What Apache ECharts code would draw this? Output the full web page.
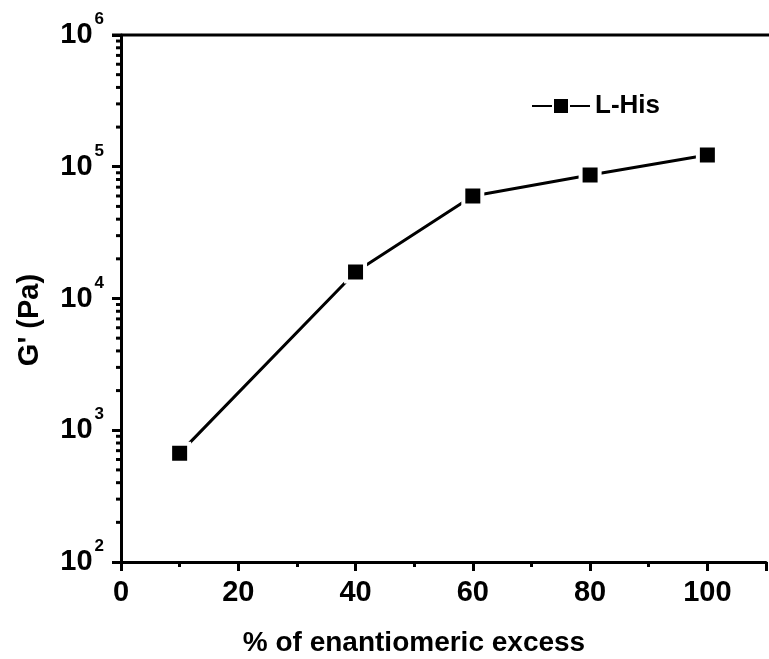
<!DOCTYPE html>
<html>
<head>
<meta charset="utf-8">
<script src="https://cdn.jsdelivr.net/npm/echarts@6/dist/echarts.min.js"></script>
<style>html,body{margin:0;padding:0;background:#fff}#c{width:769px;height:659px}</style>
</head>
<body>
<div id="c"></div>
<script>
const categories = [10, 40, 60, 80, 100];
const seriesName = 'L-His';
const gPrime = [670, 15900, 60000, 86500, 122700];
const xTicks = [0, 20, 40, 60, 80, 100];
const yTicks = [100, 1000, 10000, 100000, 1000000];
const yMinorTicks = [];
[100, 1000, 10000, 100000].forEach(function (d) { for (let k = 2; k <= 9; k++) yMinorTicks.push(k * d); });

const F = '"Liberation Sans", Arial, sans-serif';
const chart = echarts.init(document.getElementById('c'));
chart.setOption({
  animation: false,
  backgroundColor: '#fff',
  grid: { left: 121, top: 35, width: 650, height: 527, containLabel: false },
  legend: {
    left: 526, top: 88, itemWidth: 58, itemHeight: 20, itemGap: 4,
    textStyle: { fontFamily: F, fontWeight: 'bold', fontSize: 26, color: '#000' },
    data: [seriesName]
  },
  xAxis: {
    type: 'value', min: 0, max: 110, interval: 20,
    axisLine: { lineStyle: { color: '#000', width: 3 } },
    axisTick: { inside: false, length: 9, lineStyle: { width: 3, color: '#000' } },
    minorTick: { show: true, splitNumber: 2, length: 5, lineStyle: { width: 3, color: '#000' } },
    splitLine: { show: false },
    axisLabel: {
      margin: 16, color: '#000', fontFamily: F, fontWeight: 'bold', fontSize: 29,
      formatter: function (v) { return xTicks.indexOf(v) >= 0 ? String(v) : ''; }
    }
  },
  yAxis: {
    type: 'log', logBase: 10, min: yTicks[0], max: yTicks[yTicks.length - 1],
    axisLine: { lineStyle: { color: '#000', width: 3 } },
    axisTick: { inside: false, length: 9, lineStyle: { width: 3, color: '#000' } },
    splitLine: { show: false },
    axisLabel: {
      margin: 17, color: '#000',
      formatter: function (v) { return '{b|10}{s|' + Math.round(Math.log10(v)) + '}'; },
      rich: {
        b: { fontFamily: F, fontWeight: 'bold', fontSize: 29, lineHeight: 48, color: '#000' },
        s: { fontFamily: F, fontWeight: 'bold', fontSize: 17, lineHeight: 17, verticalAlign: 'top', padding: [0, 0, 0, 2], color: '#000' }
      }
    }
  },
  graphic: [
    { type: 'line', shape: { x1: 112, y1: 35, x2: 769, y2: 35 }, style: { stroke: '#000', lineWidth: 3 } },
    { type: 'text', x: 414, y: 643, style: { text: '% of enantiomeric excess', fontFamily: F, fontWeight: 'bold', fontSize: 28, fill: '#000', textAlign: 'center', textVerticalAlign: 'middle' } },
    { type: 'text', x: 30, y: 320, rotation: Math.PI / 2, style: { text: "G' (Pa)", fontFamily: F, fontWeight: 'bold', fontSize: 29, fill: '#000', textAlign: 'center', textVerticalAlign: 'middle' } }
  ],
  series: [
    {
      type: 'custom', silent: true, clip: false, legendHoverLink: false,
      data: yMinorTicks.map(function (v) { return [0, v]; }),
      renderItem: function (params, api) {
        const p = api.coord([0, api.value(1)]);
        return { type: 'line', shape: { x1: p[0] - 5, y1: p[1], x2: p[0], y2: p[1] }, style: { stroke: '#000', lineWidth: 3 } };
      }
    },
    {
      name: seriesName, type: 'line',
      data: categories.map(function (c, i) { return [c, gPrime[i]]; }),
      symbol: 'rect', symbolSize: 19,
      lineStyle: { color: '#000', width: 3 },
      itemStyle: { color: '#000', borderColor: '#fff', borderWidth: 4 }
    }
  ]
});
</script>
</body>
</html>
